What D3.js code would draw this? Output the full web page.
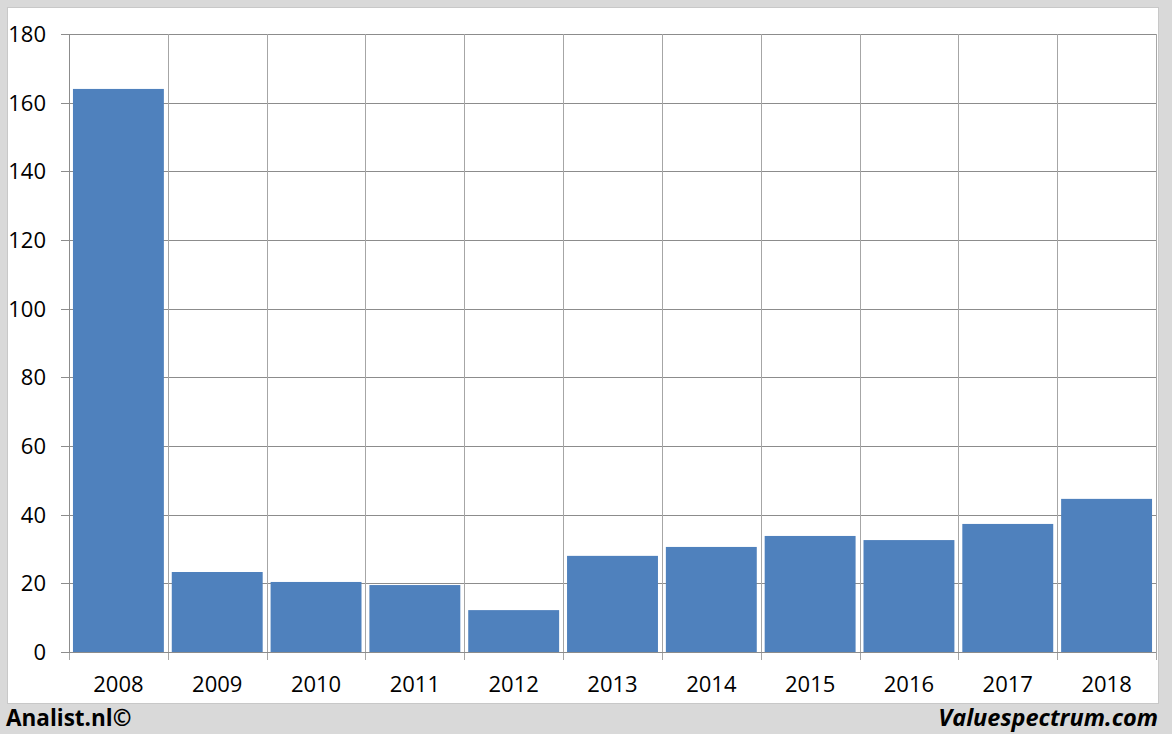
<!DOCTYPE html>
<html><head><meta charset="utf-8">
<script src="https://cdn.jsdelivr.net/npm/d3@7"></script>
<style>body{margin:0;background:#d9d9d9;}svg{display:block;}</style>
</head><body><svg id="c" width="1172" height="734"></svg>
<script>
const categories = ["2008","2009","2010","2011","2012","2013","2014","2015","2016","2017","2018"];
const values = [164.0, 23.3, 20.4, 19.5, 12.2, 28.0, 30.6, 33.8, 32.6, 37.3, 44.6];
const yTicks = [0,20,40,60,80,100,120,140,160,180];

const svg = d3.select("#c");
svg.append("rect").attr("x",0).attr("y",0).attr("width",1172).attr("height",734).attr("fill","#d9d9d9");
svg.append("rect").attr("x",7.5).attr("y",7.5).attr("width",1151).attr("height",696).attr("fill","#fff").attr("stroke","#c8c8c8");

const L=69, R=1156, T=34, B=652;
const x = d3.scaleBand().domain(categories).range([L,R]).paddingInner(0.08).paddingOuter(0.04);
const y = d3.scaleLinear().domain([0,180]).range([B,T]);

const g = svg.append("g");
g.selectAll(".hg").data(yTicks).join("line")
  .attr("x1",L-8).attr("x2",R).attr("y1",d=>Math.round(y(d))+0.5).attr("y2",d=>Math.round(y(d))+0.5)
  .attr("stroke","#8c8c8c").attr("stroke-width",1);
const bounds = d3.range(categories.length+1).map(i=>L+i*(R-L)/categories.length);
g.selectAll(".vg").data(bounds).join("line")
  .attr("x1",d=>Math.round(d)+0.5).attr("x2",d=>Math.round(d)+0.5).attr("y1",T).attr("y2",B+8)
  .attr("stroke","#a6a6a6").attr("stroke-width",1);

g.selectAll(".bar").data(values).join("rect")
  .attr("x",(d,i)=>x(categories[i])).attr("width",x.bandwidth())
  .attr("y",d=>y(d)).attr("height",d=>B-y(d))
  .attr("fill","#4f81bd");

g.append("line").attr("x1",L).attr("x2",R).attr("y1",B+0.5).attr("y2",B+0.5).attr("stroke","#8c8c8c");
g.append("line").attr("x1",L+0.5).attr("x2",L+0.5).attr("y1",T).attr("y2",B).attr("stroke","#8c8c8c");

const font = "'Open Sans', 'Liberation Sans', sans-serif";
g.selectAll(".yl").data(yTicks).join("text")
  .attr("x",46).attr("y",d=>y(d)).attr("dy","0.36em").attr("text-anchor","end")
  .attr("font-family",font).attr("font-size",22).attr("fill","#000").text(d=>d);
g.selectAll(".xl").data(categories).join("text")
  .attr("x",d=>x(d)+x.bandwidth()/2).attr("y",684).attr("dy","0.36em").attr("text-anchor","middle")
  .attr("font-family",font).attr("font-size",22).attr("fill","#000").text(d=>d);

svg.append("text").attr("x",6).attr("y",726).attr("font-family",font).attr("font-weight","bold")
  .attr("font-size",22.5).attr("fill","#000").text("Analist.nl©");
svg.append("text").attr("x",1158).attr("y",726).attr("text-anchor","end").attr("font-family",font).attr("font-weight","bold")
  .attr("font-style","italic").attr("font-size",23.5).attr("fill","#000").text("Valuespectrum.com");
</script></body></html>
